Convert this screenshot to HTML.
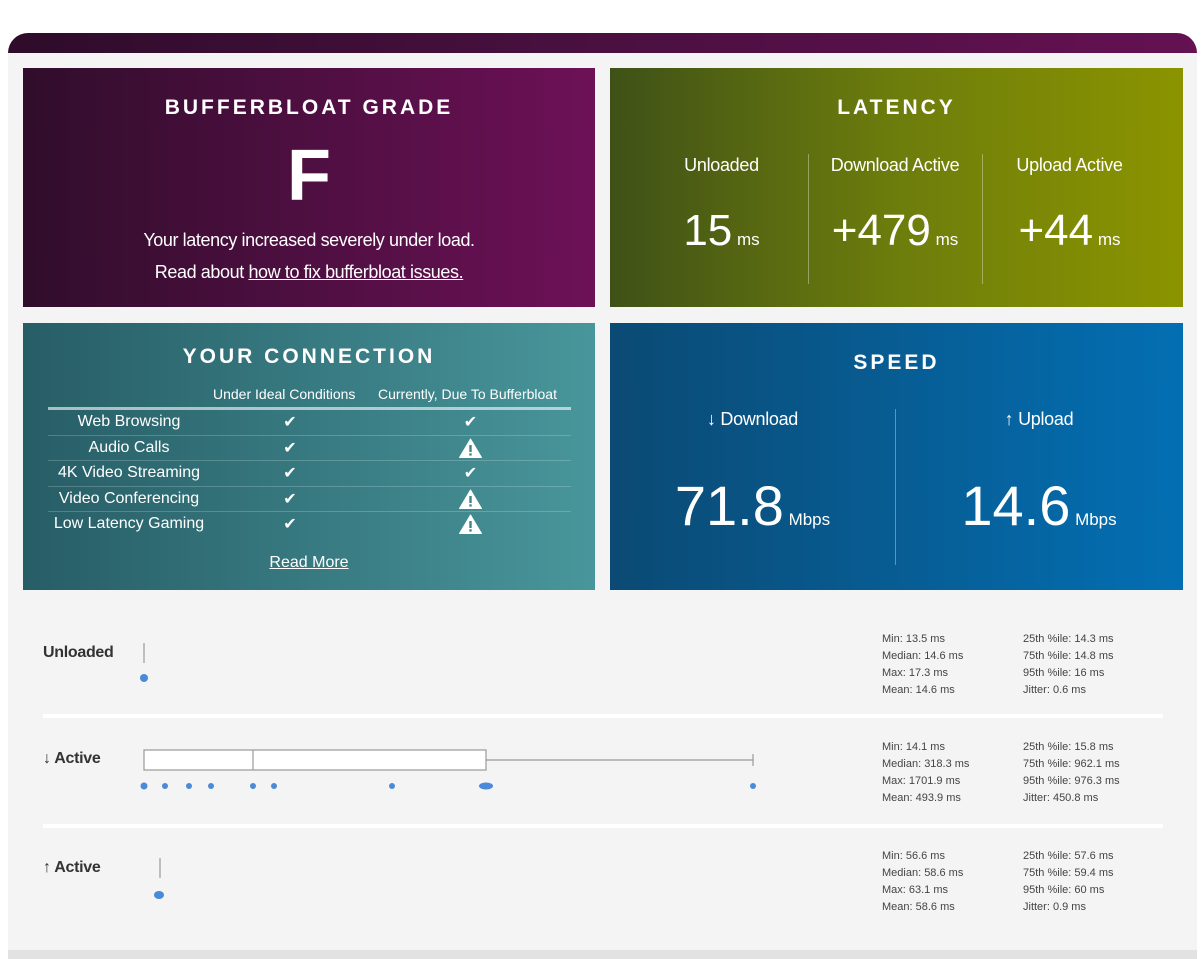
<!DOCTYPE html>
<html><head><meta charset="utf-8"><style>
*{margin:0;padding:0;box-sizing:border-box}
body{width:1203px;height:959px;background:#fff;font-family:"Liberation Sans",sans-serif;color:#fff;position:relative;overflow:hidden}
.abs{position:absolute}
.bar{left:8px;top:33px;width:1189px;height:20px;border-radius:20px 20px 0 0;background:linear-gradient(90deg,#2e0c2a,#4a1040,#651152)}
.bg{left:8px;top:53px;width:1189px;height:897px;background:#f4f4f4}
.foot{left:8px;top:950px;width:1189px;height:9px;background:#e2e2e2}
.p{position:absolute;text-align:center}
.t{font-weight:bold;letter-spacing:3px;font-size:21px}
.c{position:absolute;text-align:center;width:100%}
.lbl{font-size:18px;letter-spacing:-0.3px}
.big{font-size:44px}
.ms{font-size:17px}
table{border-collapse:collapse}
.stat{position:absolute;font-size:11px;color:#444;line-height:17px}
.rowl{position:absolute;font-size:16px;color:#333;font-weight:bold;letter-spacing:-0.3px}
td svg{vertical-align:middle}
</style></head><body>
<div class="abs bar"></div>
<div class="abs bg"></div>
<div class="abs foot"></div>

<div class="p" style="left:23px;top:68px;width:572px;height:239px;background:linear-gradient(90deg,#300d2b,#6d1157)">
<div class="c t" style="top:28px">BUFFERBLOAT GRADE</div>
<div class="c" style="top:68px;font-size:72px;font-weight:bold;line-height:80px">F</div>
<div class="c" style="top:162px;font-size:18px;letter-spacing:-0.4px">Your latency increased severely under load.</div>
<div class="c" style="top:194px;font-size:18px;letter-spacing:-0.4px">Read about <u>how to fix bufferbloat issues.</u></div>
</div>

<div class="p" style="left:610px;top:68px;width:573px;height:239px;background:linear-gradient(90deg,#3f5117,#6d7d0c,#8b9400)">
<div class="c t" style="top:28px">LATENCY</div>
<div class="abs" style="left:198px;top:86px;width:1px;height:130px;background:rgba(255,255,255,.35)"></div>
<div class="abs" style="left:372px;top:86px;width:1px;height:130px;background:rgba(255,255,255,.35)"></div>
<div class="abs lbl" style="left:0;width:223px;top:87px">Unloaded</div>
<div class="abs lbl" style="left:198px;width:174px;top:87px">Download Active</div>
<div class="abs lbl" style="left:372px;width:175px;top:87px">Upload Active</div>
<div class="abs" style="left:0;width:223px;top:138px"><span class="big">15</span><span class="ms"> ms</span></div>
<div class="abs" style="left:198px;width:174px;top:138px"><span class="big">+479</span><span class="ms"> ms</span></div>
<div class="abs" style="left:372px;width:175px;top:138px"><span class="big">+44</span><span class="ms"> ms</span></div>
</div>

<div class="p" style="left:23px;top:323px;width:572px;height:267px;background:linear-gradient(90deg,#275d66,#48969b)">
<div class="c t" style="top:22px">YOUR CONNECTION</div>
<div class="abs" style="left:190px;top:63px;font-size:14px">Under Ideal Conditions</div>
<div class="abs" style="left:355px;top:63px;font-size:14px">Currently, Due To Bufferbloat</div>
<div class="abs" style="left:25px;top:84px;width:523px;height:3px;background:rgba(255,255,255,.6)"></div>
<table class="abs" style="left:25px;top:87px;width:523px;font-size:16px">
<tr style="height:25px;border-bottom:1px solid rgba(255,255,255,.2)"><td style="width:162px">Web Browsing</td><td style="width:160px">✔</td><td>✔</td></tr>
<tr style="height:25px;border-bottom:1px solid rgba(255,255,255,.2)"><td>Audio Calls</td><td>✔</td><td><svg width="23" height="20" viewBox="0 0 23 20"><path d="M11.5 1 L22.5 19.5 L0.5 19.5 Z" fill="#fff" stroke="#fff" stroke-linejoin="round"/><rect x="10.3" y="7" width="2.4" height="7" fill="#3e8589"/><rect x="10.3" y="15.3" width="2.4" height="2.3" fill="#3e8589"/></svg></td></tr>
<tr style="height:26px;border-bottom:1px solid rgba(255,255,255,.2)"><td>4K Video Streaming</td><td>✔</td><td>✔</td></tr>
<tr style="height:25px;border-bottom:1px solid rgba(255,255,255,.2)"><td>Video Conferencing</td><td>✔</td><td><svg width="23" height="20" viewBox="0 0 23 20"><path d="M11.5 1 L22.5 19.5 L0.5 19.5 Z" fill="#fff" stroke="#fff" stroke-linejoin="round"/><rect x="10.3" y="7" width="2.4" height="7" fill="#3e8589"/><rect x="10.3" y="15.3" width="2.4" height="2.3" fill="#3e8589"/></svg></td></tr>
<tr style="height:26px"><td>Low Latency Gaming</td><td>✔</td><td><svg width="23" height="20" viewBox="0 0 23 20"><path d="M11.5 1 L22.5 19.5 L0.5 19.5 Z" fill="#fff" stroke="#fff" stroke-linejoin="round"/><rect x="10.3" y="7" width="2.4" height="7" fill="#3e8589"/><rect x="10.3" y="15.3" width="2.4" height="2.3" fill="#3e8589"/></svg></td></tr>
</table>
<div class="c" style="top:231px;font-size:16px"><u>Read More</u></div>
</div>

<div class="p" style="left:610px;top:323px;width:573px;height:267px;background:linear-gradient(90deg,#0b4a74,#036fb3)">
<div class="c t" style="top:28px">SPEED</div>
<div class="abs" style="left:285px;top:86px;width:1px;height:156px;background:rgba(255,255,255,.35)"></div>
<div class="abs lbl" style="left:0;width:285px;top:86px">↓ Download</div>
<div class="abs lbl" style="left:285px;width:288px;top:86px">↑ Upload</div>
<div class="abs" style="left:0;width:285px;top:150px"><span style="font-size:56px">71.8</span><span class="ms"> Mbps</span></div>
<div class="abs" style="left:285px;width:288px;top:150px"><span style="font-size:56px">14.6</span><span class="ms"> Mbps</span></div>
</div>

<div class="rowl" style="left:43px;top:644px">Unloaded</div>
<div class="rowl" style="left:43px;top:750px">↓ Active</div>
<div class="rowl" style="left:43px;top:859px">↑ Active</div>
<div class="abs" style="left:43px;top:714px;width:1120px;height:4px;background:#fff"></div>
<div class="abs" style="left:43px;top:824px;width:1120px;height:4px;background:#fff"></div>

<svg class="abs" style="left:0;top:0" width="1203" height="959">
<g stroke="#999" stroke-width="1.2" fill="#fff">
<line x1="144" y1="643" x2="144" y2="663"/>
<rect x="144" y="750" width="342" height="20"/>
<line x1="253" y1="750" x2="253" y2="770"/>
<line x1="486" y1="760" x2="753" y2="760"/>
<line x1="753" y1="754" x2="753" y2="766"/>
<line x1="160" y1="858" x2="160" y2="878"/>
</g>
<g fill="#4a8ad9">
<ellipse cx="144" cy="678" rx="4" ry="4"/>
<ellipse cx="144" cy="786" rx="3.5" ry="3.5"/><ellipse cx="165" cy="786" rx="3" ry="3"/><ellipse cx="189" cy="786" rx="3" ry="3"/><ellipse cx="211" cy="786" rx="3" ry="3"/><ellipse cx="253" cy="786" rx="3" ry="3"/><ellipse cx="274" cy="786" rx="3" ry="3"/><ellipse cx="392" cy="786" rx="3" ry="3"/><ellipse cx="486" cy="786" rx="7" ry="3.5"/><ellipse cx="753" cy="786" rx="3" ry="3"/>
<ellipse cx="159" cy="895" rx="5" ry="4"/>
</g>
</svg>

<div class="stat" style="left:882px;top:631px">Min: 13.5 ms<br>Median: 14.6 ms<br>Max: 17.3 ms<br>Mean: 14.6 ms</div>
<div class="stat" style="left:1023px;top:631px">25th %ile: 14.3 ms<br>75th %ile: 14.8 ms<br>95th %ile: 16 ms<br>Jitter: 0.6 ms</div>
<div class="stat" style="left:882px;top:739px">Min: 14.1 ms<br>Median: 318.3 ms<br>Max: 1701.9 ms<br>Mean: 493.9 ms</div>
<div class="stat" style="left:1023px;top:739px">25th %ile: 15.8 ms<br>75th %ile: 962.1 ms<br>95th %ile: 976.3 ms<br>Jitter: 450.8 ms</div>
<div class="stat" style="left:882px;top:848px">Min: 56.6 ms<br>Median: 58.6 ms<br>Max: 63.1 ms<br>Mean: 58.6 ms</div>
<div class="stat" style="left:1023px;top:848px">25th %ile: 57.6 ms<br>75th %ile: 59.4 ms<br>95th %ile: 60 ms<br>Jitter: 0.9 ms</div>
</body></html>
